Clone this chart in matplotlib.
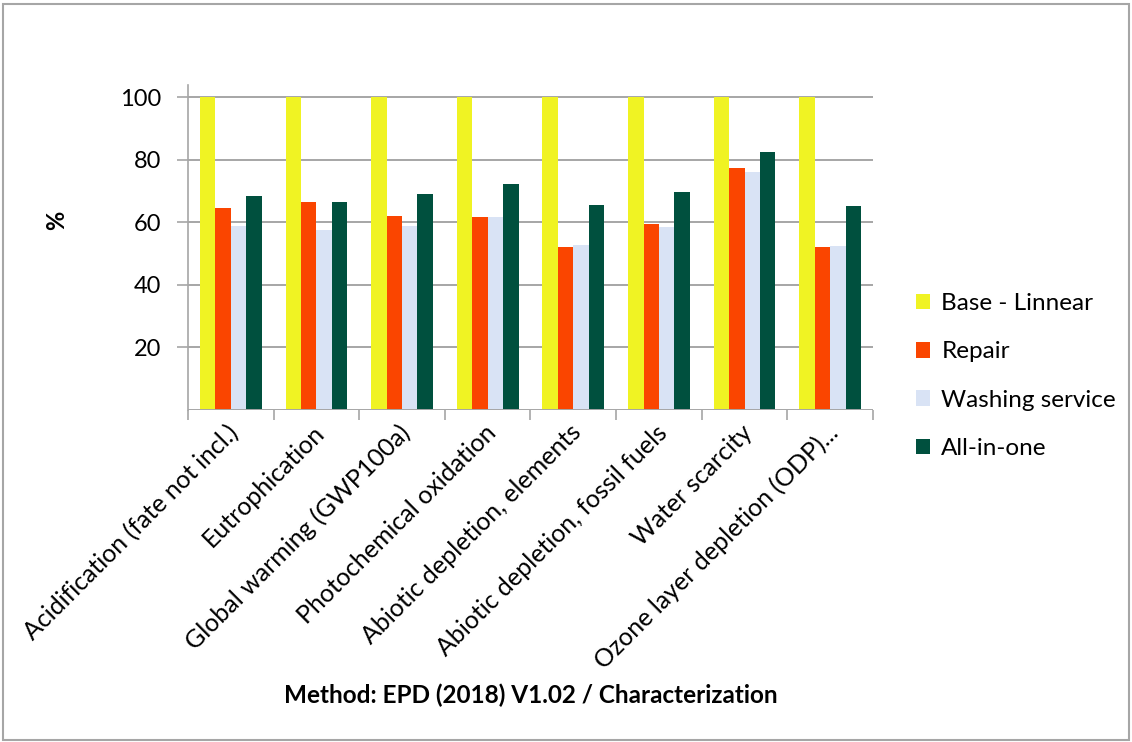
import matplotlib
matplotlib.use("Agg")
import matplotlib.pyplot as plt
import numpy as np
from matplotlib.patches import Rectangle, Patch

categories = [
    "Acidification (fate not incl.)",
    "Eutrophication",
    "Global warming (GWP100a)",
    "Photochemical oxidation",
    "Abiotic depletion, elements",
    "Abiotic depletion, fossil fuels",
    "Water scarcity",
    "Ozone layer depletion (ODP)...",
]
series_names = ["Base - Linnear", "Repair", "Washing service", "All-in-one"]
base = [100, 100, 100, 100, 100, 100, 100, 100]
repair = [64.7, 66.6, 61.9, 61.7, 52.0, 59.5, 77.2, 52.1]
washing = [58.9, 57.6, 58.7, 61.7, 52.6, 58.4, 76.1, 52.3]
allinone = [68.5, 66.6, 69.0, 72.1, 65.6, 69.5, 82.3, 65.3]
yticks = [20, 40, 60, 80, 100]

colors = ["#F0F323", "#FA4500", "#D9E3F5", "#00503E"]
series = [base, repair, washing, allinone]

plt.rcParams['font.family'] = ['Lato', 'DejaVu Sans']

fig = plt.figure(figsize=(11.32, 7.42), dpi=100)
ax = fig.add_axes([188/1132, 1-410/742, (873-188)/1132, (410-84.5)/742])

n = len(categories)
x = np.arange(n)
bw = 0.18
for i, (vals, c) in enumerate(zip(series, colors)):
    ax.bar(x + (i - 1.5) * bw, vals, width=bw, color=c, label=series_names[i], zorder=3)

ax.set_xlim(-0.5, n - 0.5)
ax.set_ylim(0, 104)
ax.set_yticks(yticks)
ax.set_yticklabels([str(t) for t in yticks], fontsize=17)
for t in yticks:
    ax.axhline(t, color="#A6A6A6", lw=1.4, zorder=1)
ax.axhline(0, color="#A6A6A6", lw=1.4, zorder=4)

ax.set_xticks(np.arange(n + 1) - 0.5, minor=False)
ax.set_xticklabels([])
ax.tick_params(axis='x', length=7, color="#A6A6A6", width=1.2)
ax.tick_params(axis='y', length=8, color="#A6A6A6", width=1.2, pad=11)

for s in ["top", "right", "bottom"]:
    ax.spines[s].set_visible(False)
ax.spines["left"].set_color("#A6A6A6")
ax.spines["left"].set_linewidth(1.2)

for xi, lab in zip(x, categories):
    ax.text(xi + 0.05, -6, lab, rotation=45, rotation_mode='anchor',
            ha='right', va='center', fontsize=18)

fig.text(57/1132, 1-220/742, "%", fontsize=17, fontweight='bold', rotation=90,
         ha='center', va='center')
fig.text(531/1132, 1-695/742, "Method: EPD (2018) V1.02 / Characterization",
         fontsize=17.5, fontweight='bold', ha='center', va='center')

handles = [Patch(facecolor=c) for c in colors]
fig.legend(handles, series_names, loc='center left', bbox_to_anchor=(894/1132, 1-376/742),
           frameon=False, fontsize=17.5, handlelength=0.6, handleheight=0.6,
           handletextpad=0.45, labelspacing=1.12)

fig.patches.append(Rectangle((3/1132, 2/742), 1126/1132, 736/742, transform=fig.transFigure,
                             fill=False, edgecolor="#A6A6A6", lw=1.5))

fig.savefig("out.png", dpi=100)
